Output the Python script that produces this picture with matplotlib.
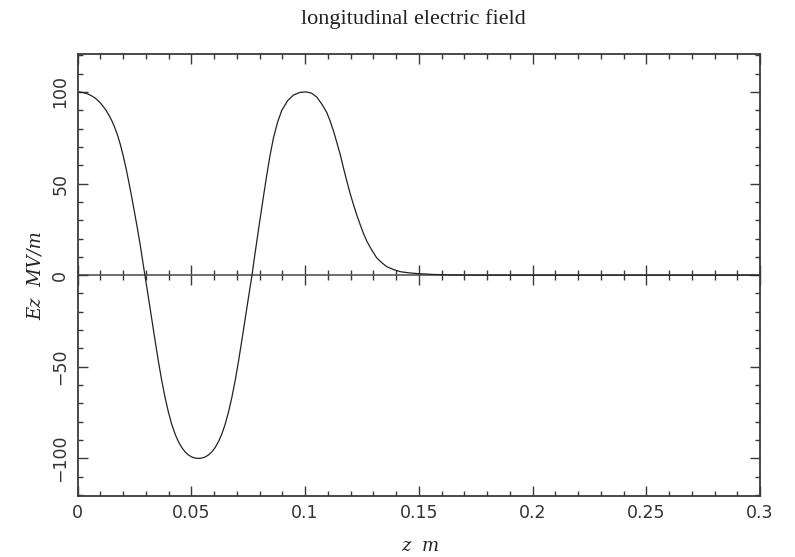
import matplotlib
matplotlib.use("Agg")
import matplotlib.pyplot as plt
from matplotlib.ticker import MultipleLocator, FixedFormatter, FixedLocator, NullFormatter

# Data (z in m, Ez in MV/m)
z_m = [0.0, 0.00125, 0.0025, 0.00375, 0.005, 0.00625, 0.0075, 0.00875,
       0.010, 0.01125, 0.0125, 0.01375, 0.015, 0.01625, 0.0175, 0.01875,
       0.020, 0.02125, 0.0225, 0.02375, 0.025, 0.02625, 0.0275, 0.0285,
       0.02955, 0.03102, 0.03249, 0.03396, 0.03544, 0.03691, 0.03838,
       0.03985, 0.04132, 0.04280, 0.04427, 0.04574, 0.04721, 0.04868,
       0.05016, 0.05163, 0.0531, 0.05457, 0.05604, 0.05752, 0.05899,
       0.06046, 0.06193, 0.06340, 0.06488, 0.06635, 0.06782, 0.06929,
       0.07076, 0.07224, 0.07371, 0.07518, 0.07665,
       0.0776, 0.0787, 0.0798, 0.0809, 0.0820, 0.0831, 0.0846, 0.0861,
       0.0879, 0.0897, 0.0923, 0.0949, 0.0977, 0.1004,
       0.1028, 0.1051, 0.1073, 0.1095, 0.1110, 0.1124, 0.1139, 0.1154,
       0.1168, 0.1183, 0.1197, 0.1212, 0.1227, 0.1242, 0.1256, 0.1271,
       0.1293, 0.1315, 0.1337, 0.1359, 0.1388, 0.1418, 0.1454, 0.1490,
       0.1560, 0.1650, 0.1750, 0.3000]
ez_MV_m = [100.0, 99.9, 99.6, 99.15, 98.6, 97.75, 96.8, 95.45,
           93.9, 92.0, 89.9, 87.3, 84.3, 80.7, 76.5, 71.3,
           65.2, 58.4, 50.7, 42.7, 34.2, 25.6, 16.5, 8.4,
           0.0, -11.5, -23.3, -35.1, -46.6, -57.2, -66.5,
           -74.5, -81.2, -86.6, -90.8, -94.0, -96.4, -98.1,
           -99.2, -99.8, -100.0, -99.8, -99.2, -98.1, -96.4,
           -94.0, -90.8, -86.6, -81.2, -74.5, -66.5, -57.2,
           -46.6, -35.1, -23.3, -11.5, 0.0,
           8.6, 18.0, 27.4, 36.5, 45.5, 54.3, 65.5, 75.0,
           83.5, 89.8, 95.2, 98.3, 99.7, 100.0,
           99.3, 97.2, 93.4, 88.8, 84.1, 78.9, 72.6, 66.0,
           58.8, 51.5, 45.0, 38.7, 32.9, 27.6, 22.9, 18.6,
           13.7, 9.4, 6.8, 4.6, 3.1, 1.9, 1.3, 0.9,
           0.4, 0.1, 0.0, 0.0]

x_ticks = [0, 0.05, 0.1, 0.15, 0.2, 0.25, 0.3]
x_tick_labels = ["0", "0.05", "0.1", "0.15", "0.2", "0.25", "0.3"]
y_ticks = [-100, -50, 0, 50, 100]
y_tick_labels = ["\u2212100", "\u221250", "0", "50", "100"]

title = "longitudinal electric field"
xlabel = "z  m"
ylabel = "Ez  MV/m"

xlim = (0.0, 0.3)
ylim = (-120.5, 120.5)

axis_color = "#3a3a3a"

fig = plt.figure(figsize=(7.95, 5.57), dpi=100)
ax = fig.add_axes([0.0977, 0.1095, 0.9560 - 0.0977, 0.9025 - 0.1095])

ax.plot(z_m, ez_MV_m, color="#222222", lw=0.9)
ax.set_xlim(*xlim)
ax.set_ylim(*ylim)

for s in ax.spines.values():
    s.set_color(axis_color)
    s.set_linewidth(1.3)

ax.xaxis.set_major_locator(FixedLocator(x_ticks))
ax.xaxis.set_major_formatter(FixedFormatter(x_tick_labels))
ax.xaxis.set_minor_locator(MultipleLocator(0.01))
ax.yaxis.set_major_locator(FixedLocator(y_ticks))
ax.yaxis.set_major_formatter(FixedFormatter(y_tick_labels))
ax.yaxis.set_minor_locator(MultipleLocator(10))

ax.tick_params(which="both", direction="in", top=True, right=True,
               color=axis_color, width=1.0, labelcolor="#333333")
ax.tick_params(which="major", length=7.5)
ax.tick_params(which="minor", length=3.5)
ax.tick_params(axis="x", which="major", pad=6, labelsize=12.5)
ax.tick_params(axis="y", which="major", pad=6, labelsize=12.5)
for lab in ax.get_yticklabels():
    lab.set_rotation(90)
    lab.set_va("center")

# zero axis with ticks crossing it
zero_loc = (0 - ylim[0]) / (ylim[1] - ylim[0])
sec = ax.secondary_xaxis(zero_loc)
for s in sec.spines.values():
    s.set_color("#555555")
    s.set_linewidth(1.2)
sec.xaxis.set_major_locator(FixedLocator(x_ticks))
sec.xaxis.set_minor_locator(MultipleLocator(0.01))
sec.xaxis.set_major_formatter(NullFormatter())
sec.xaxis.set_minor_formatter(NullFormatter())
sec.tick_params(which="both", direction="inout", color=axis_color, width=1.0,
                labeltop=False, labelbottom=False)
sec.tick_params(which="major", length=15)
sec.tick_params(which="minor", length=7)

fig.text(0.52, 0.966, title, ha="center", va="center",
         fontsize=16, family="Liberation Serif", color="#222222")
fig.text(0.528, 0.02, xlabel, ha="center", va="center",
         fontsize=13, family="DejaVu Serif", style="italic", color="#222222")
fig.text(0.045, 0.505, ylabel, ha="center", va="center", rotation=90,
         fontsize=13, family="DejaVu Serif", style="italic", color="#222222")

fig.savefig("out.png", dpi=100)
